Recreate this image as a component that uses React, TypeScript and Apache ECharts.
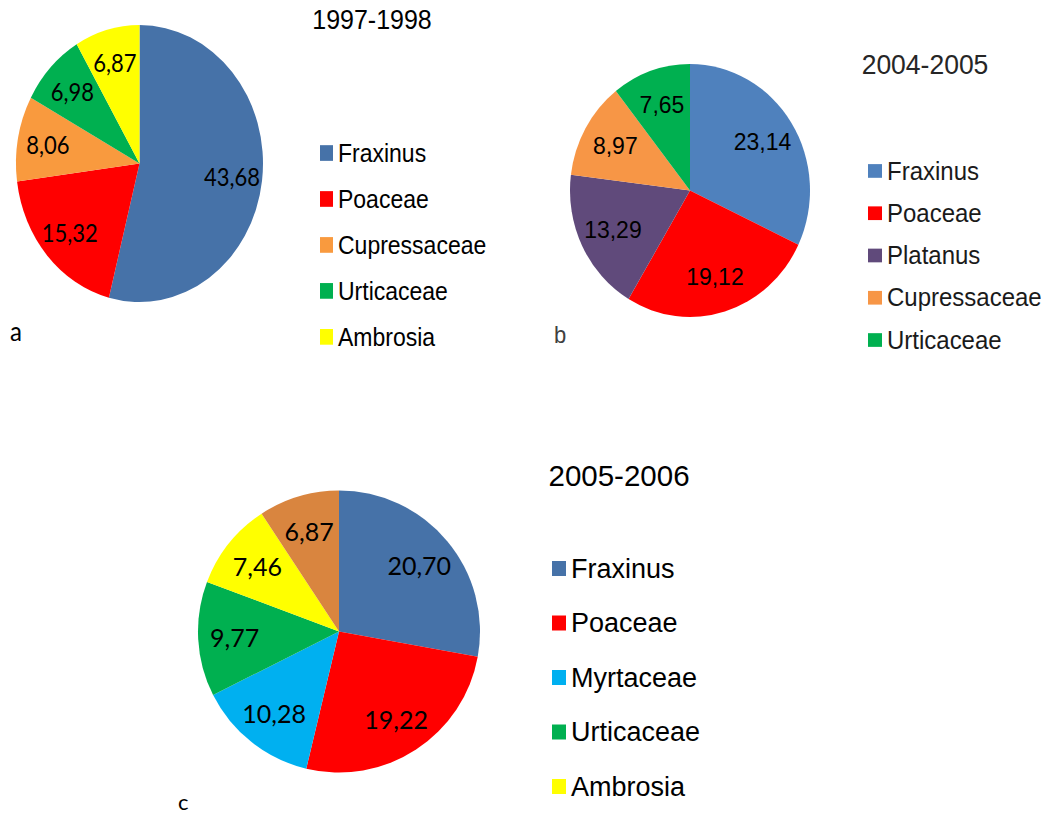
import React, { useEffect, useRef } from "react";
import * as echarts from "echarts";

// ---- Data ----
const titleA = "1997-1998";
const namesA = ["Fraxinus", "Poaceae", "Cupressaceae", "Urticaceae", "Ambrosia"];
const valuesA = [43.68, 15.32, 8.06, 6.98, 6.87];
const colorsA = ["#4672A8", "#FF0000", "#F99A3E", "#00B050", "#FFFF00"];

const titleB = "2004-2005";
const namesB = ["Fraxinus", "Poaceae", "Platanus", "Cupressaceae", "Urticaceae"];
const valuesB = [23.14, 19.12, 13.29, 8.97, 7.65];
const colorsB = ["#4F81BD", "#FF0000", "#604A7B", "#F79646", "#00B050"];

const titleC = "2005-2006";
const namesC = ["Fraxinus", "Poaceae", "Myrtaceae", "Urticaceae", "Ambrosia", "Other"];
const valuesC = [20.7, 19.22, 10.28, 9.77, 7.46, 6.87];
const colorsC = ["#4672A8", "#FF0000", "#00B0F0", "#00B050", "#FFFF00", "#D9853F"];
const legendC = ["Fraxinus", "Poaceae", "Myrtaceae", "Urticaceae", "Ambrosia"];

type Panel = {
  left: number; top: number; width: number; height: number; s: number;
  names: string[]; values: number[]; colors: string[]; legendNames: string[];
  title: string; titleX: number; titleY: number; titleSize: number; titleColor: string;
  cx: number; cy: number; r: number; labelInner: number; labelFont: string; labelSize: number;
  legLeft: number; legTop: number; itemW: number; itemH: number; legSize: number; legGap: number; legColor: string;
  letter: string; letterX: number; letterY: number; letterSize: number; letterColor: string; letterFont: string;
};

const panels: Panel[] = [
  {
    left: 0, top: 0, width: 540, height: 321, s: 1.121,
    names: namesA, values: valuesA, colors: colorsA, legendNames: namesA,
    title: titleA, titleX: 372, titleY: 17.8, titleSize: 25, titleColor: "#000",
    cx: 139.5, cy: 145.9, r: 123.5, labelInner: 0.46, labelFont: "Lato", labelSize: 22,
    legLeft: 320, legTop: 125, itemW: 13, itemH: 14, legSize: 23, legGap: 18, legColor: "#000",
    letter: "a", letterX: 10, letterY: 294.4, letterSize: 24, letterColor: "#000", letterFont: "Lato",
  },
  {
    left: 540, top: 0, width: 508, height: 342, s: 1.054,
    names: namesB, values: valuesB, colors: colorsB, legendNames: namesB,
    title: titleB, titleX: 925 - 540, titleY: 61.2, titleSize: 26.5, titleColor: "#262626",
    cx: 150, cy: 180.7, r: 120, labelInner: 0.38, labelFont: "Liberation Sans", labelSize: 23,
    legLeft: 328, legTop: 150.2, itemW: 14, itemH: 13, legSize: 24, legGap: 16.1, legColor: "#1a1a1a",
    letter: "b", letterX: 14, letterY: 318, letterSize: 22, letterColor: "#404040", letterFont: "Liberation Sans",
  },
  {
    left: 0, top: 420, width: 1048, height: 396, s: 1,
    names: namesC, values: valuesC, colors: colorsC, legendNames: legendC,
    title: titleC, titleX: 619, titleY: 55, titleSize: 29.5, titleColor: "#000",
    cx: 339, cy: 211.5, r: 141, labelInner: 0.44, labelFont: "Lato", labelSize: 25,
    legLeft: 552, legTop: 135, itemW: 14, itemH: 15, legSize: 27, legGap: 27.5, legColor: "#000",
    letter: "c", letterX: 178, letterY: 381, letterSize: 22, letterColor: "#000", letterFont: "Lato",
  },
];

function buildOption(p: Panel) {
  const data = p.names.map((n, i) => ({ name: n, value: p.values[i], itemStyle: { color: p.colors[i] } }));
  const labelData = p.names.map((n, i) => ({ name: n, value: p.values[i] }));
  return {
    animation: false,
    legend: {
      orient: "vertical",
      left: p.legLeft,
      top: p.legTop,
      padding: 0,
      itemWidth: p.itemW,
      itemHeight: p.itemH,
      itemGap: p.legGap,
      icon: "rect",
      selectedMode: false,
      data: p.legendNames,
      textStyle: { fontFamily: "Liberation Sans", fontSize: p.legSize, lineHeight: p.legSize, color: p.legColor },
    },
    graphic: [
      {
        type: "text", x: p.titleX, y: p.titleY,
        style: { text: p.title, fontFamily: "Liberation Sans", fontSize: p.titleSize, fill: p.titleColor, align: "center", verticalAlign: "middle" },
      },
      {
        type: "text", x: p.letterX, y: p.letterY,
        style: { text: p.letter, fontFamily: p.letterFont, fontSize: p.letterSize, fill: p.letterColor, align: "left", verticalAlign: "middle" },
      },
    ],
    series: [
      {
        type: "pie",
        radius: [0, p.r],
        center: [p.cx, p.cy],
        startAngle: 90,
        clockwise: true,
        silent: true,
        data,
        label: { show: false },
        labelLine: { show: false },
        itemStyle: { borderWidth: 0 },
        emphasis: { disabled: true },
      },
      {
        type: "pie",
        radius: [p.r * p.labelInner, p.r],
        center: [p.cx, p.cy],
        startAngle: 90,
        clockwise: true,
        silent: true,
        legendHoverLink: false,
        data: labelData,
        itemStyle: { color: "rgba(0,0,0,0)", borderWidth: 0 },
        label: {
          show: true,
          position: "inside",
          fontFamily: p.labelFont,
          fontSize: p.labelSize,
          color: "#000",
          formatter: (d: any) => Number(d.value).toFixed(2).replace(".", ","),
        },
        labelLine: { show: false },
        emphasis: { disabled: true },
      },
    ],
  };
}

function PieChart({ p }: { p: Panel }) {
  const ref = useRef<HTMLDivElement>(null);
  useEffect(() => {
    const chart = echarts.init(ref.current as HTMLDivElement, undefined, { renderer: "svg" });
    chart.setOption(buildOption(p) as any);
    return () => chart.dispose();
  }, []);
  return (
    <div
      ref={ref}
      style={{
        position: "absolute",
        left: p.left,
        top: p.top,
        width: p.width,
        height: p.height,
        transform: `scaleY(${p.s})`,
        transformOrigin: "0 0",
      }}
    />
  );
}

export default function App() {
  return (
    <div style={{ position: "absolute", left: 0, top: 0, width: 1048, height: 816, background: "#fff", overflow: "hidden" }}>
      {panels.map((p, i) => (
        <PieChart key={i} p={p} />
      ))}
    </div>
  );
}
